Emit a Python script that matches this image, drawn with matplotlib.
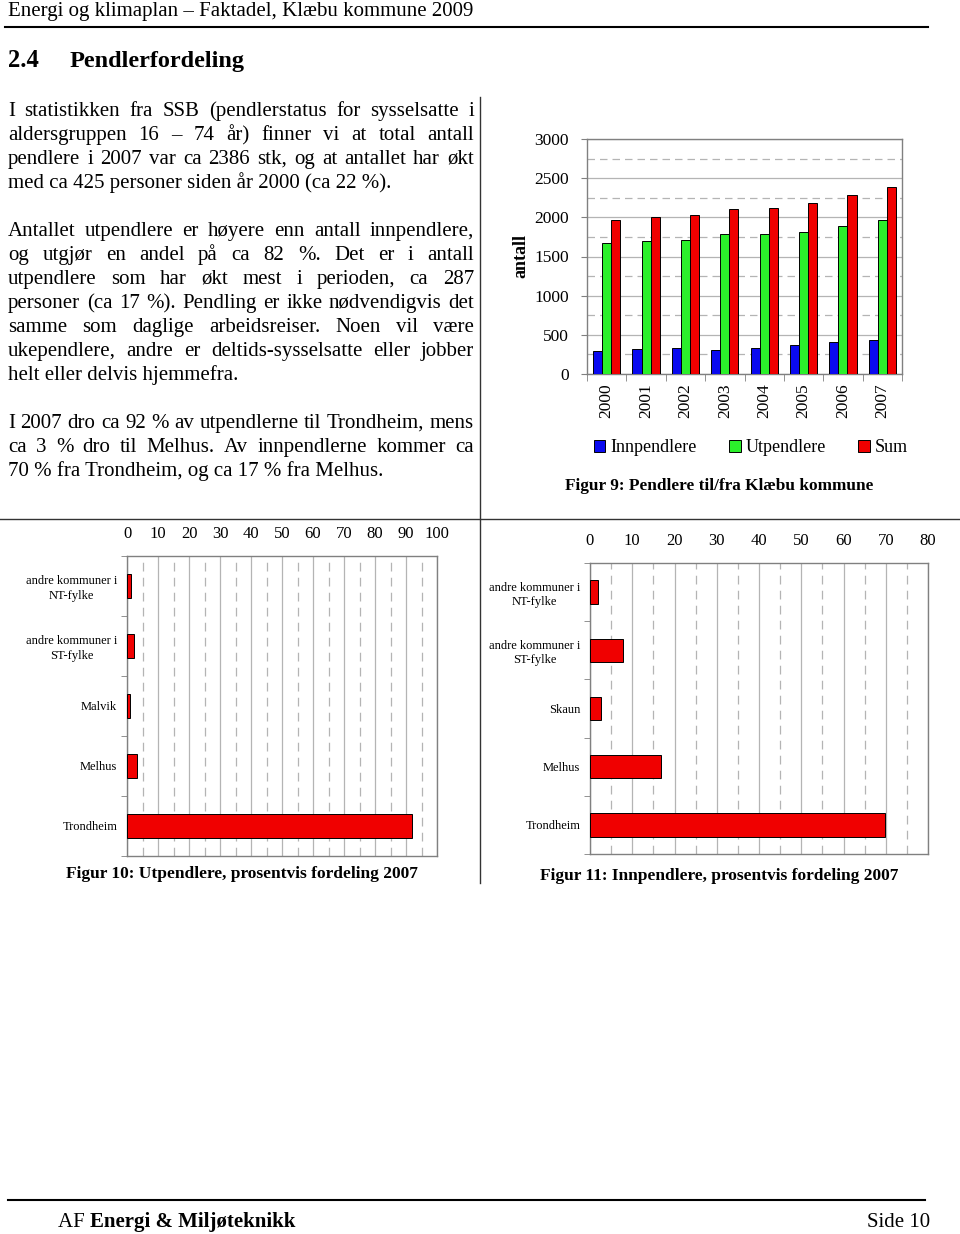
import matplotlib
matplotlib.use('Agg')
import matplotlib.pyplot as plt
from matplotlib.lines import Line2D
import numpy as np

plt.rcParams['font.family'] = ['Liberation Serif', 'DejaVu Serif']

# ---------------- data ----------------
years = ['2000', '2001', '2002', '2003', '2004', '2005', '2006', '2007']
innpendlere = [290, 315, 328, 311, 328, 366, 404, 438]
utpendlere = [1672, 1694, 1711, 1783, 1783, 1817, 1889, 1962]
sum_pendlere = [1966, 2000, 2034, 2106, 2123, 2179, 2285, 2391]
series_labels = ['Innpendlere', 'Utpendlere', 'Sum']

ut_categories = ['andre kommuner i\nNT-fylke', 'andre kommuner i\nST-fylke',
                 'Malvik', 'Melhus', 'Trondheim']
ut_percent = [1.3, 2.2, 1.0, 3.1, 92.0]
inn_categories = ['andre kommuner i\nNT-fylke', 'andre kommuner i\nST-fylke',
                  'Skaun', 'Melhus', 'Trondheim']
inn_percent = [1.9, 7.8, 2.5, 16.9, 69.9]

header = 'Energi og klimaplan – Faktadel, Klæbu kommune 2009'
para1 = ['I statistikken fra SSB (pendlerstatus for sysselsatte i',
         'aldersgruppen 16 – 74 år) finner vi at total antall',
         'pendlere i 2007 var ca 2386 stk, og at antallet har økt',
         'med ca 425 personer siden år 2000 (ca 22 %).']
para2 = ['Antallet utpendlere er høyere enn antall innpendlere,',
         'og utgjør en andel på ca 82 %. Det er i antall',
         'utpendlere som har økt mest i perioden, ca 287',
         'personer (ca 17 %). Pendling er ikke nødvendigvis det',
         'samme som daglige arbeidsreiser. Noen vil være',
         'ukependlere, andre er deltids-sysselsatte eller jobber',
         'helt eller delvis hjemmefra.']
para3 = ['I 2007 dro ca 92 % av utpendlerne til Trondheim, mens',
         'ca 3 % dro til Melhus. Av innpendlerne kommer ca',
         '70 % fra Trondheim, og ca 17 % fra Melhus.']

# ---------------- helpers ----------------
W, H = 960, 1234
fig = plt.figure(figsize=(9.6, 12.34), dpi=100)
renderer = fig.canvas.get_renderer()


def fx(x):
    return x / W


def fy(y):
    return 1 - y / H


def axes_px(x0, y0, x1, y1):
    return fig.add_axes([fx(x0), fy(y1), (x1 - x0) / W, (y1 - y0) / H])


def width_of(t):
    return t.get_window_extent(renderer).width


def fit_text(x, y, s, target_w, weight='normal', ha='left', va='baseline'):
    t = fig.text(fx(x), fy(y), s, fontsize=10, fontweight=weight, ha=ha, va=va)
    w = width_of(t)
    t.set_fontsize(10 * target_w / w)
    return t


def hline(x0, x1, y, lw=1.2, color='black'):
    fig.add_artist(Line2D([fx(x0), fx(x1)], [fy(y), fy(y)], transform=fig.transFigure,
                          color=color, lw=lw))


def vline(x, y0, y1, lw=1.0, color='#333333'):
    fig.add_artist(Line2D([fx(x), fx(x)], [fy(y0), fy(y1)], transform=fig.transFigure,
                          color=color, lw=lw))


# ---------------- page text ----------------
fit_text(8, 16, header, 466)
hline(5, 928, 27, lw=1.5)
fit_text(8, 67, '2.4', 31, weight='bold')
fit_text(70, 67, 'Pendlerfordeling', 176, weight='bold')

# body font size fitted on a last (unjustified) line
probe = fig.text(0, 0, para1[-1], fontsize=10)
body_size = 10 * 382 / width_of(probe)
probe.remove()

X0, TW = 8, 466


def draw_para(lines, y0):
    for i, line in enumerate(lines):
        y = y0 + 24 * i
        if i == len(lines) - 1:
            fig.text(fx(X0), fy(y), line, fontsize=body_size, ha='left', va='baseline')
            continue
        words = line.split(' ')
        objs = [fig.text(0, fy(y), w, fontsize=body_size, ha='left', va='baseline') for w in words]
        widths = [width_of(o) for o in objs]
        gap = (TW - sum(widths)) / (len(words) - 1)
        x = X0
        for o, w in zip(objs, widths):
            o.set_x(fx(x))
            x += w + gap


draw_para(para1, 116)
draw_para(para2, 236)
draw_para(para3, 428)

# page lines
vline(480, 97, 883)
hline(0, 960, 519, lw=1.0, color='#333333')
hline(8, 925, 1200, lw=1.5)

# footer
af = fig.text(fx(58), fy(1227), 'AF ', fontsize=15, ha='left', va='baseline')
fig.text(fx(58) + width_of(af) / W, fy(1227), 'Energi & Miljøteknikk', fontsize=15,
         fontweight='bold', ha='left', va='baseline')
fig.text(fx(930), fy(1227), 'Side 10', fontsize=15, ha='right', va='baseline')

# ---------------- Figur 9 ----------------
GRID = '#b4b4b4'
SPINE = '#808080'
ax = axes_px(587, 139, 902, 374)
x = np.arange(len(years))
bw = 0.23
colors = ['#0a0af0', '#2bf02b', '#f00000']
for k, (vals, col, lab) in enumerate(zip([innpendlere, utpendlere, sum_pendlere], colors, series_labels)):
    ax.bar(x + (k - 1) * bw, vals, bw, color=col, edgecolor='black', lw=0.7, label=lab, zorder=3)
ax.set_xlim(-0.5, len(years) - 0.5)
ax.set_ylim(0, 3000)
ax.set_yticks(range(0, 3001, 500))
ax.set_yticks(np.arange(250, 3000, 500), minor=True)
ax.grid(axis='y', which='major', color=GRID, lw=0.9)
ax.grid(axis='y', which='minor', color=GRID, lw=0.9, ls=(0, (6, 4)))
ax.set_axisbelow(True)
ax.tick_params(axis='y', which='major', labelsize=12.5, length=4, color=SPINE, pad=9)
ax.tick_params(axis='y', which='minor', length=0)
ax.set_xticks(x, years, rotation=90)
ax.tick_params(axis='x', which='major', length=0, labelsize=12.5, pad=7)
ax.set_xticks(np.arange(-0.5, len(years), 1), minor=True)
ax.tick_params(axis='x', which='minor', length=5, color=SPINE, direction='out')
for s in ax.spines.values():
    s.set_color(SPINE)
    s.set_lw(1.0)
fig.text(fx(521), fy(256), 'antall', rotation=90, fontsize=13, fontweight='bold',
         ha='center', va='center')
ax.legend(loc='center', bbox_to_anchor=(fx(751), fy(448)), bbox_transform=fig.transFigure,
          ncol=3, frameon=False, fontsize=13, handlelength=0.65, handleheight=0.65,
          handletextpad=0.3, columnspacing=1.75, borderpad=0, borderaxespad=0)
fit_text(719, 486, 'Figur 9: Pendlere til/fra Klæbu kommune', 310, weight='bold',
         ha='center', va='center')


# ---------------- Figur 10 / 11 ----------------
def hbar_chart(box, cats, vals, xmax, caption, cap_x, cap_y, cap_w):
    ax = axes_px(*box)
    y = np.arange(len(cats))
    ax.barh(y, vals, 0.4, color='#f00000', edgecolor='black', lw=0.7, zorder=3)
    ax.set_ylim(len(cats) - 0.5, -0.5)
    ax.set_xlim(0, xmax)
    ax.xaxis.tick_top()
    ax.set_xticks(range(0, xmax + 1, 10))
    ax.set_xticks(np.arange(5, xmax, 10), minor=True)
    ax.tick_params(axis='x', which='both', length=0, labelsize=12, pad=10)
    ax.grid(axis='x', which='major', color=GRID, lw=0.9)
    ax.grid(axis='x', which='minor', color=GRID, lw=0.9, ls=(0, (7, 5)))
    ax.set_axisbelow(True)
    ax.set_yticks(y, cats)
    ax.tick_params(axis='y', which='major', length=0, labelsize=9, pad=7)
    for lab in ax.get_yticklabels():
        lab.set_multialignment('center')
        lab.set_linespacing(1.3)
    ax.set_yticks(np.arange(-0.5, len(cats), 1), minor=True)
    ax.tick_params(axis='y', which='minor', length=4, color=SPINE, direction='out')
    for s in ax.spines.values():
        s.set_color(SPINE)
        s.set_lw(1.0)
    fit_text(cap_x, cap_y, caption, cap_w, weight='bold', ha='center', va='center')
    return ax


hbar_chart((127, 556, 437, 856), ut_categories, ut_percent, 100,
           'Figur 10: Utpendlere, prosentvis fordeling 2007', 241.5, 874, 353)
hbar_chart((590, 563, 928, 854), inn_categories, inn_percent, 80,
           'Figur 11: Innpendlere, prosentvis fordeling 2007', 719, 876, 360)

fig.savefig('out.png', dpi=100)
